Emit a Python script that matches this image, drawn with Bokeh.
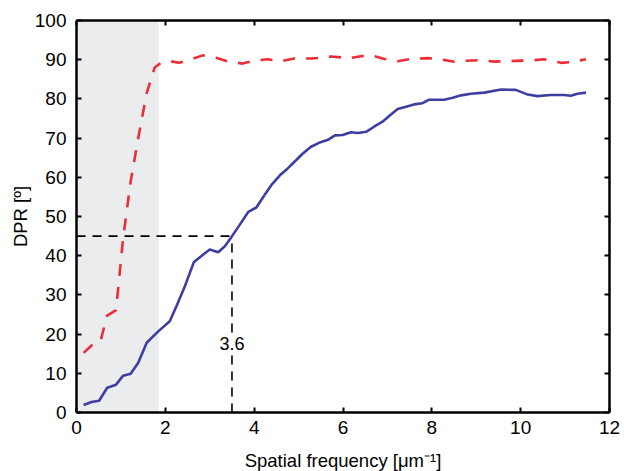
from bokeh.plotting import figure
from bokeh.models import LinearAxis, BoxAnnotation, FixedTicker, Label
from bokeh.embed import file_html
from bokeh.resources import INLINE

# Blue (solid) series
blue_x = [0.16, 0.34, 0.51, 0.69, 0.89, 1.05, 1.22, 1.39, 1.58, 1.84, 2.10, 2.25, 2.44, 2.64,
          2.82, 3.00, 3.19, 3.34, 3.49, 3.67, 3.87, 4.05, 4.23, 4.40, 4.58, 4.75, 4.92, 5.09,
          5.28, 5.46, 5.65, 5.82, 5.99, 6.18, 6.34, 6.52, 6.70, 6.89, 7.06, 7.23, 7.42, 7.60,
          7.79, 7.94, 8.28, 8.47, 8.66, 8.88, 9.18, 9.56, 9.89, 10.16, 10.38, 10.68, 10.98,
          11.13, 11.28, 11.47]
blue_y = [1.9, 2.7, 3.0, 6.3, 7.1, 9.4, 9.9, 12.7, 17.8, 20.7, 23.3, 27.1, 32.2, 38.3,
          40.0, 41.6, 40.9, 42.4, 44.8, 47.8, 51.2, 52.3, 55.4, 58.2, 60.5, 62.2, 64.1, 66.0,
          67.8, 68.8, 69.5, 70.7, 70.8, 71.5, 71.3, 71.6, 72.9, 74.2, 75.8, 77.4, 78.0, 78.6,
          78.9, 79.8, 79.8, 80.3, 80.9, 81.3, 81.6, 82.4, 82.3, 81.1, 80.7, 81.0, 81.0,
          80.8, 81.3, 81.6]

# Red (dashed) series
red_x = [0.16, 0.36, 0.54, 0.69, 0.89, 1.05, 1.22, 1.39, 1.58, 1.76, 1.90, 2.12, 2.31, 2.57,
         2.84, 3.14, 3.40, 3.74, 4.00, 4.30, 4.60, 4.90, 5.28, 5.54, 5.73, 6.14, 6.40, 6.70,
         6.93, 7.23, 7.53, 7.91, 8.13, 8.51, 8.73, 9.11, 9.41, 9.86, 10.23, 10.53, 10.91,
         11.13, 11.47]
red_y = [15.2, 17.3, 18.2, 24.7, 26.1, 44.5, 59.0, 70.0, 81.5, 88.0, 89.2, 89.6, 89.2, 90.1,
         91.1, 90.5, 89.6, 89.0, 89.8, 90.1, 89.6, 90.3, 90.3, 90.5, 90.8, 90.4, 90.9, 90.9,
         90.2, 89.6, 90.2, 90.4, 90.2, 89.5, 89.7, 89.9, 89.5, 89.7, 89.8, 90.1, 89.2,
         89.4, 90.1]

x_ticks = [0, 2, 4, 6, 8, 10, 12]
y_ticks = [0, 10, 20, 30, 40, 50, 60, 70, 80, 90, 100]

shade_end = 1.85
marker_x = 3.5
marker_y = 45
marker_label = "3.6"
label_y = 17.5

FONT = "Liberation Sans"

p = figure(x_range=(0, 12), y_range=(0, 100),
           output_backend="svg", toolbar_location=None,
           frame_width=533, frame_height=392,
           min_border_left=76, min_border_top=20, min_border_right=12, min_border_bottom=50,
           x_axis_label="Spatial frequency [μm⁻¹]", y_axis_label="DPR [º]")
p.grid.visible = False
p.outline_line_color = None
p.background_fill_color = "white"

p.add_layout(BoxAnnotation(left=0, right=shade_end, fill_color="#EBECEE", fill_alpha=1,
                           line_color=None, level="underlay"))

p.line([0, marker_x], [marker_y, marker_y], line_color="black", line_width=1.6, line_dash="9 7")
p.line([marker_x, marker_x], [0, marker_y], line_color="black", line_width=1.6, line_dash="9 7")

p.line(red_x, red_y, line_color="#EE2C37", line_width=2.6, line_dash="12 11")
p.line(blue_x, blue_y, line_color="#3E3EA0", line_width=2.6)

p.add_layout(Label(x=marker_x, y=label_y, text=marker_label, text_align="center",
                   text_baseline="middle", text_font=FONT, text_font_size="18px",
                   text_color="black", background_fill_color="white",
                   background_fill_alpha=1))

for ax in [p.xaxis[0], p.yaxis[0]]:
    ax.axis_line_width = 2.5
    ax.major_tick_line_width = 2
    ax.major_tick_in = 5
    ax.major_tick_out = 0
    ax.minor_tick_line_color = None
    ax.major_label_text_font = FONT
    ax.major_label_text_font_size = "19px"
    ax.major_label_text_color = "black"
    ax.axis_label_text_font = FONT
    ax.axis_label_text_font_size = "18.5px"
    ax.axis_label_text_font_style = "normal"
    ax.axis_label_text_color = "black"

p.xaxis[0].ticker = FixedTicker(ticks=x_ticks)
p.yaxis[0].ticker = FixedTicker(ticks=y_ticks)
p.xaxis[0].major_label_standoff = 8
p.xaxis[0].axis_label_standoff = 13
p.yaxis[0].major_label_standoff = 10
p.yaxis[0].axis_label_standoff = 1

# box sides: ticks only (drawn as minor ticks, so no labels)
for loc, ticks in [("right", y_ticks), ("above", x_ticks)]:
    ax = LinearAxis(ticker=FixedTicker(ticks=[], minor_ticks=ticks))
    ax.axis_line_width = 2.5
    ax.minor_tick_line_width = 2
    ax.minor_tick_line_color = "black"
    ax.minor_tick_in = 5
    ax.minor_tick_out = 0
    ax.major_tick_line_color = None
    ax.major_label_standoff = 0
    p.add_layout(ax, loc)

open("out.html", "w").write(file_html(p, INLINE))
